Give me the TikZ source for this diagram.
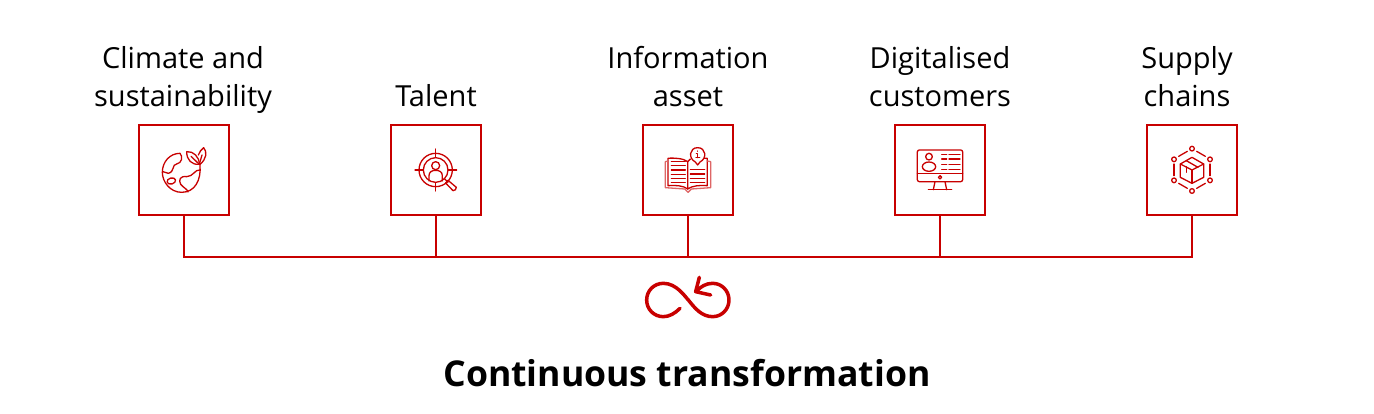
\documentclass[tikz,border=0pt]{standalone}
\usepackage{fontspec}
\setmainfont[Ligatures=TeX]{Open Sans}
\definecolor{bridgered}{HTML}{C80000}
\tikzset{
  stagebox/.style={draw=bridgered,line width=2pt,minimum size=90pt,inner sep=0pt},
  stagetext/.style={align=center,anchor=base,inner sep=0pt,font=\fontsize{29pt}{38pt}\selectfont},
  titletext/.style={anchor=base,inner sep=0pt,font=\fontsize{35.6pt}{40pt}\selectfont\bfseries},
  busline/.style={draw=bridgered,line width=2pt,line cap=rect},
  iconline/.style={draw=bridgered,line width=1.3pt,line join=round,line cap=round},
  loopline/.style={draw=bridgered,line width=3.5pt,line cap=round,line join=round}
}
\begin{document}
\begin{tikzpicture}[x=1pt,y=-1pt]
    \useasboundingbox (0,0) rectangle (1374,414);
    \node [stagebox] (climate) at (184,170) {};
    \node [stagebox] (talent) at (436,170) {};
    \node [stagebox] (information) at (688,170) {};
    \node [stagebox] (customers) at (940,170) {};
    \node [stagebox] (chains) at (1192,170) {};
    \node [stagetext] (climatetext) at (183,107) {Climate and\\sustainability};
    \node [stagetext] (talenttext) at (436,107) {Talent};
    \node [stagetext] (informationtext) at (688,107) {Information\\asset};
    \node [stagetext] (customerstext) at (940,107) {Digitalised\\customers};
    \node [stagetext] (chainstext) at (1187,107) {Supply\\chains};
    \node [titletext] (title) at (687,386) {Continuous transformation};
    \coordinate (busclimate) at (184,257);
    \coordinate (bustalent) at (436,257);
    \coordinate (businformation) at (688,257);
    \coordinate (buscustomers) at (940,257);
    \coordinate (buschains) at (1192,257);
    \draw [busline] (busclimate) -- (buschains);
    \draw [busline] (climate) -- (busclimate);
    \draw [busline] (talent) -- (bustalent);
    \draw [busline] (information) -- (businformation);
    \draw [busline] (customers) -- (buscustomers);
    \draw [busline] (chains) -- (buschains);
    \begin{scope}[shift={(130,115)},scale=1/3]
    \draw [iconline] (210,150) .. controls (214,195) and (195,232) .. (155,232) .. controls (120,232) and (97,200) .. (97,172) .. controls (97,140) and (120,115) .. (150,115);
    \draw [iconline] (150,115) .. controls (160,125) and (155,145) .. (140,147) .. controls (125,148) and (135,170) .. (115,175) -- (99,170);
    \draw [iconline] (210,165) .. controls (195,162) and (190,185) .. (170,185) .. controls (150,182) and (145,195) .. (152,208) .. controls (160,218) and (172,222) .. (174,231);
    \draw [iconline,rotate around={15:(124,198)}] (124,198) ellipse (13 and 9);
    \draw [iconline] (170,110) .. controls (190,108) and (208,125) .. (208,148) .. controls (185,150) and (170,135) .. (170,110);
    \draw [iconline] (205,120) .. controls (208,110) and (215,103) .. (221,98) .. controls (232,110) and (230,132) .. (210,148);
    \draw [iconline] (183,124) -- (208,148) -- (216,120);
    \end{scope}
    \begin{scope}[shift={(380,115)},scale=1/3]
    \draw [iconline] (167,165) circle (50);
    \draw [iconline] (167,165) circle (37);
    \draw [iconline] (167,102) -- (167,125);
    \draw [iconline] (167,205) -- (167,228);
    \draw [iconline] (105,165) -- (130,165);
    \draw [iconline] (205,165) -- (230,165);
    \draw [iconline] (167,152) circle (12);
    \draw [iconline] (147,198) -- (147,182) .. controls (147,170) and (157,166) .. (167,166) .. controls (177,166) and (187,170) .. (187,182) -- (187,198);
    \draw [iconline] (192,190) -- (204,202);
    \draw [iconline] (204,196) -- (197,204) -- (219,227) .. controls (224,228) and (230,222) .. (229,217) -- cycle;
    \end{scope}
    \begin{scope}[shift={(632,115)},scale=1/3]
    \draw [iconline] (175,132) -- (167,140) .. controls (155,130) and (125,128) .. (108,130) -- (108,212) .. controls (130,210) and (155,212) .. (167,222);
    \draw [iconline] (216,130) -- (226,130) -- (226,212) .. controls (205,210) and (180,212) .. (167,222) -- (167,140);
    \draw [iconline,bridgered!60] (108,138) -- (100,140) -- (100,218) -- (158,222) -- (168,232) -- (178,222) -- (236,218) -- (236,140) -- (226,138);
    \draw [iconline] (190,141) .. controls (168,130) and (172,98) .. (197,98) .. controls (222,98) and (226,130) .. (204,141) -- (197,150) -- cycle;
    \draw [iconline] (197,108) -- (197,109);
    \draw [iconline] (193,116) -- (197,116) -- (197,128);
    \draw [iconline] (192,128) -- (203,128);
    \draw [iconline] (118,139) -- (160,139);
    \draw [iconline] (118,152) -- (160,152);
    \draw [iconline] (118,165) -- (160,165);
    \draw [iconline] (118,178) -- (160,178);
    \draw [iconline] (118,190) -- (160,190);
    \draw [iconline] (118,203) -- (160,203);
    \draw [iconline] (175,163) -- (218,163);
    \draw [iconline] (175,177) -- (218,177);
    \draw [iconline] (175,190) -- (218,190);
    \draw [iconline] (175,203) -- (218,203);
    \end{scope}
    \begin{scope}[shift={(885,115)},scale=1/3]
    \draw [iconline,rounded corners=2pt] (97,105) rectangle (233,200);
    \draw [iconline] (97,175) -- (233,175);
    \draw [iconline] (165,187) circle (5);
    \draw [iconline] (132,125) circle (10);
    \draw [iconline] (132,155) ellipse (20 and 14);
    \draw [iconline] (170,119) -- (185,119);
    \draw [iconline] (192,119) -- (225,119);
    \draw [iconline] (170,132) -- (185,132);
    \draw [iconline] (192,132) -- (225,132);
    \draw [iconline] (170,149) -- (185,149);
    \draw [iconline] (192,149) -- (225,149);
    \draw [iconline] (170,163) -- (185,163);
    \draw [iconline] (192,163) -- (225,163);
    \draw [iconline] (150,200) -- (145,224);
    \draw [iconline] (180,200) -- (185,224);
    \draw [iconline] (130,224) -- (200,224);
    \end{scope}
    \begin{scope}[shift={(1137,115)},scale=1/3]
    \draw [iconline] (165,101) circle (7);
    \draw [iconline] (165,228) circle (7);
    \draw [iconline] (111,133) circle (7);
    \draw [iconline] (219,133) circle (7);
    \draw [iconline] (111,196) circle (7);
    \draw [iconline] (219,196) circle (7);
    \draw [iconline] (125,124) -- (151,109);
    \draw [iconline] (179,109) -- (205,124);
    \draw [iconline] (111,147) -- (111,182);
    \draw [iconline] (219,147) -- (219,182);
    \draw [iconline] (125,205) -- (151,220);
    \draw [iconline] (179,220) -- (205,205);
    \draw [iconline] (165,127) -- (200,147) -- (200,187) -- (165,205) -- (130,187) -- (130,147) -- cycle;
    \draw [iconline] (130,147) -- (165,165) -- (200,147);
    \draw [iconline] (165,165) -- (165,205);
    \draw [iconline] (148,137) -- (183,157);
    \draw [iconline] (148,155) -- (148,172);
    \end{scope}
    \begin{scope}[shift={(630,245)},scale=1/3]
    \draw [loopline] (150,190) .. controls (135,205) and (118,215) .. (100,215) .. controls (72,215) and (50,193) .. (50,165) .. controls (50,137) and (72,115) .. (100,115) .. controls (140,115) and (165,155) .. (175,165) .. controls (195,190) and (215,215) .. (248,215) .. controls (275,215) and (297,193) .. (297,165) .. controls (297,137) and (275,115) .. (248,115) .. controls (228,115) and (212,125) .. (200,138);
    \draw [loopline] (208,97) -- (197,140) -- (242,150);
    \end{scope}
\end{tikzpicture}
\end{document}
